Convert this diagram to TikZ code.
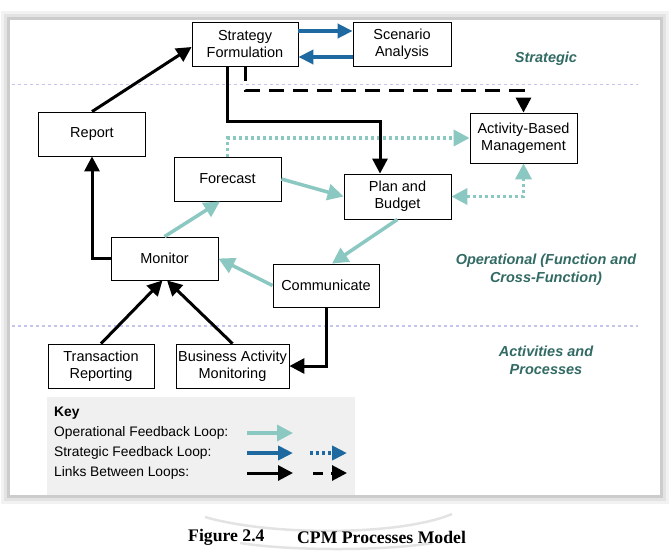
\documentclass[tikz,border=0pt]{standalone}
\usepackage{fontspec}
\setmainfont{Liberation Sans}
\newfontfamily\capfont{Liberation Serif}
\usetikzlibrary{arrows.meta}
\definecolor{opteal}{HTML}{8CC8C2}
\definecolor{stblue}{HTML}{1E69A0}
\definecolor{lvlteal}{HTML}{326A64}
\definecolor{seplav}{HTML}{C4C4EC}

\begin{document}
\begin{tikzpicture}[x=1pt, y=-1pt,
		proc/.style={draw, line width=0.8pt, fill=white, inner sep=0pt, align=center, minimum width=107pt, minimum height=44pt, font=\fontsize{14.5}{17}\selectfont},
		level/.style={text=lvlteal, align=center, font=\fontsize{14.5}{18}\selectfont\bfseries\itshape},
		keytext/.style={anchor=west, inner sep=0pt, font=\fontsize{13.8}{16}\selectfont},
		link/.style={line width=3pt, -{Triangle[length=15pt, width=15pt]}},
		linkdash/.style={link, dash pattern=on 15pt off 9pt},
		oploop/.style={opteal, line width=3.5pt, -{Triangle[length=16pt, width=16pt]}},
		oploopdot/.style={oploop, dash pattern=on 3pt off 3pt},
		stloop/.style={stblue, line width=4pt, -{Triangle[length=15pt, width=14pt]}},
		stloopdot/.style={stloop, dash pattern=on 3pt off 3pt}]
		\useasboundingbox (0, 0) rectangle (671, 555);
		% frame with its shadow
		\fill[gray!10] (1, 11) rectangle (669, 504);
		\fill[gray!22] (4, 14) rectangle (666, 501);
		\fill[gray!40] (7, 17) rectangle (663, 498);
		\fill[white] (10, 20) rectangle (660, 495);
		\draw[seplav, dashed, line width=0.9pt] (12, 84)--(638, 84);
		\draw[seplav, dashed, line width=1.2pt] (12, 326)--(638, 326);
		\fill[gray!12] (47, 397) rectangle (355, 495);

		\node[proc, minimum width=106pt](strat)at(245, 44){Strategy\\Formulation};
		\node[proc, minimum width=98pt](scen)at(402, 44){Scenario\\Analysis};
		\node[proc](report)at(92, 134){Report};
		\node[proc, minimum height=50pt](abm)at(523.5, 138){Activity-Based\\Management};
		\node[proc](fcast)at(227.5, 179){Forecast};
		\node[proc, minimum height=45pt](plan)at(397.5, 196.5){Plan and\\Budget};
		\node[proc, minimum height=43pt](monitor)at(164.5, 258.5){Monitor};
		\node[proc, minimum width=106pt, minimum height=43pt](comm)at(326, 285.5){Communicate};
		\node[proc, minimum width=106pt](trans)at(101, 366){Transaction\\Reporting};
		\node[proc, minimum width=113pt](bam)at(232.5, 366){Business Activity\\Monitoring};

		\node[level](lstrat)at(546, 59){Strategic};
		\node[level](lop)at(546, 270){Operational (Function and\\Cross-Function)};
		\node[level](lact)at(546, 360){Activities and\\Processes};

		% strategic loop
		\draw[stloop]([yshift=13pt]strat.east)--([yshift=13pt]scen.west);
		\draw[stloop]([yshift=-13pt]scen.west)--([yshift=-13pt]strat.east);
		% operational loop
		\draw[oploop](fcast.east)--(plan.west);
		\draw[oploop](plan.south)--([xshift=6pt]comm.north);
		\draw[oploop](comm.west)--(monitor.east);
		\draw[oploop](monitor.north)--([xshift=-7.5pt]fcast.south);
		\draw[oploopdot](fcast.north)|-(abm.west);
		\draw[oploopdot, {Triangle[length=16pt, width=16pt]}-{Triangle[length=16pt, width=16pt]}](plan.east)-|(abm.south);
		% links between loops
		\coordinate(sbend)at(227, 121);
		\draw[link]([xshift=-18pt]strat.south)--(sbend)-|([xshift=-17.5pt]plan.north);
		\draw[linkdash](strat.south)|-([yshift=22pt]abm.north)--(abm.north);
		\draw[link](report.north)--([yshift=-3pt]strat.west);
		\draw[link](monitor.west)-|(report.south);
		\draw[link](trans.north)--([xshift=-2pt]monitor.south);
		\draw[link](bam.north)--([xshift=2.5pt]monitor.south);
		\draw[link](comm.south)|-(bam.east);

		% key
		\node[keytext, font=\fontsize{13.8}{16}\selectfont\bfseries](key)at(54, 413){Key};
		\node[keytext](kop)at(54, 433){Operational Feedback Loop:};
		\node[keytext](kst)at(54, 453){Strategic Feedback Loop:};
		\node[keytext](kln)at(54, 473){Links Between Loops:};
		\coordinate(k1)at(247, 433); \coordinate(k2)at(293, 433);
		\coordinate(k3)at(247, 453); \coordinate(k4)at(293, 453);
		\coordinate(k5)at(310, 453); \coordinate(k6)at(347, 453);
		\coordinate(k7)at(247, 473); \coordinate(k8)at(293, 473);
		\coordinate(k9)at(313, 473); \coordinate(k10)at(347, 473);
		\draw[oploop](k1)--(k2);
		\draw[stloop](k3)--(k4);
		\draw[stloopdot](k5)--(k6);
		\draw[link](k7)--(k8);
		\draw[linkdash, dash pattern=on 10pt off 8pt](k9)--(k10);

		% caption
		\draw[gray!22, line width=2.5pt](205, 517).. controls (270, 536) and (400, 536) ..(452, 514);
		\draw[gray!22, line width=2.5pt](240, 543).. controls (290, 551) and (385, 551) ..(432, 543);
		\node[anchor=west, inner sep=0pt, font=\capfont\fontsize{17.7}{20}\selectfont\bfseries](fig)at(188, 537){Figure 2.4};
		\node[anchor=west, inner sep=0pt, font=\capfont\fontsize{17.7}{20}\selectfont\bfseries](title)at(297, 537){CPM Processes Model};
	\end{tikzpicture}
\end{document}
